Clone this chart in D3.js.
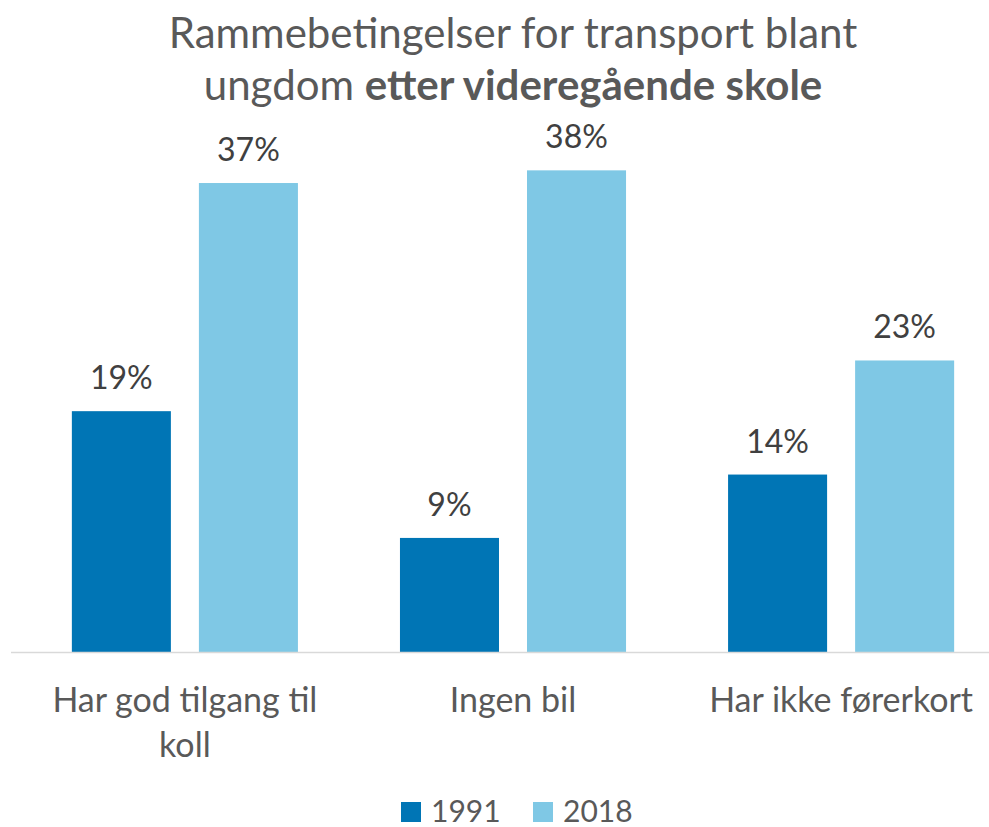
<!DOCTYPE html>
<html>
<head>
<meta charset="utf-8">
<script src="https://cdn.jsdelivr.net/npm/d3@7"></script>
<style>
  body { margin: 0; background: #fff; }
  text { font-family: Lato, "Open Sans", sans-serif; }
</style>
</head>
<body>
<div id="chart"></div>
<script>
// chart data
var categories = ["Har god tilgang til koll", "Ingen bil", "Har ikke førerkort"];
var seriesNames = ["1991", "2018"];
var values1991 = [19, 9, 14];
var values2018 = [37, 38, 23];
var colors = ["#0075b5", "#7fc8e5"];

var width = 989, height = 827;
var baseline = 652;

var svg = d3.select("#chart").append("svg")
    .attr("width", width)
    .attr("height", height);

var rows = categories.map(function(c, i) {
    return { cat: c, vals: [values1991[i], values2018[i]] };
});

var x0 = d3.scaleBand()
    .domain(categories)
    .range([21, 1005])
    .paddingInner(0.311)
    .paddingOuter(0.155);

var x1 = d3.scaleBand()
    .domain(seriesNames)
    .range([0, x0.bandwidth()])
    .paddingInner(0.2205);

var y = d3.scaleLinear()
    .domain([0, 40])
    .range([baseline, 145]);

// title
var title = svg.append("text")
    .attr("text-anchor", "middle")
    .attr("fill", "#595959")
    .style("font-size", "42px");
title.append("tspan").attr("x", 513).attr("y", 48).text("Rammebetingelser for transport blant");
var l2 = title.append("tspan").attr("x", 513).attr("y", 100);
l2.append("tspan").text("ungdom ");
l2.append("tspan").attr("font-weight", "bold").text("etter videregående skole");

// bars
var groups = svg.selectAll("g.grp")
    .data(rows)
    .enter().append("g")
    .attr("class", "grp")
    .attr("transform", function(d) { return "translate(" + x0(d.cat) + ",0)"; });

groups.selectAll("rect")
    .data(function(d) { return d.vals.map(function(v, i) { return { s: seriesNames[i], v: v, i: i }; }); })
    .enter().append("rect")
    .attr("x", function(d) { return x1(d.s); })
    .attr("y", function(d) { return y(d.v); })
    .attr("width", x1.bandwidth())
    .attr("height", function(d) { return baseline - y(d.v); })
    .attr("fill", function(d) { return colors[d.i]; });

groups.selectAll("text.lbl")
    .data(function(d) { return d.vals.map(function(v, i) { return { s: seriesNames[i], v: v }; }); })
    .enter().append("text")
    .attr("class", "lbl")
    .attr("x", function(d) { return x1(d.s) + x1.bandwidth() / 2; })
    .attr("y", function(d) { return y(d.v) - 22; })
    .attr("text-anchor", "middle")
    .attr("fill", "#404040")
    .style("font-size", "32px")
    .text(function(d) { return d.v + "%"; });

// axis line
svg.append("line")
    .attr("x1", 11).attr("x2", 1005)
    .attr("y1", baseline + 0.5).attr("y2", baseline + 0.5)
    .attr("stroke", "#d9d9d9")
    .attr("stroke-width", 1.5);

// category labels with wrapping
svg.selectAll("text.cat")
    .data(categories)
    .enter().append("text")
    .attr("class", "cat")
    .attr("text-anchor", "middle")
    .attr("fill", "#595959")
    .style("font-size", "34px")
    .each(function(d) {
        var el = d3.select(this);
        var cx = x0(d) + x0.bandwidth() / 2;
        var words = d.split(" ");
        var line = [];
        var lineNo = 0;
        var tspan = el.append("tspan").attr("x", cx).attr("y", 712);
        words.forEach(function(w) {
            line.push(w);
            tspan.text(line.join(" "));
            if (tspan.node().getComputedTextLength() > 300 && line.length > 1) {
                line.pop();
                tspan.text(line.join(" "));
                line = [w];
                lineNo++;
                tspan = el.append("tspan").attr("x", cx).attr("y", 712 + lineNo * 45).text(w);
            }
        });
    });

// legend
var legend = svg.append("g");
var legendX = [401, 533];
seriesNames.forEach(function(s, i) {
    legend.append("rect")
        .attr("x", legendX[i]).attr("y", 802)
        .attr("width", 20).attr("height", 20)
        .attr("fill", colors[i]);
    legend.append("text")
        .attr("x", legendX[i] + 30).attr("y", 822)
        .attr("fill", "#595959")
        .style("font-size", "30px")
        .text(s);
});
</script>
</body>
</html>
